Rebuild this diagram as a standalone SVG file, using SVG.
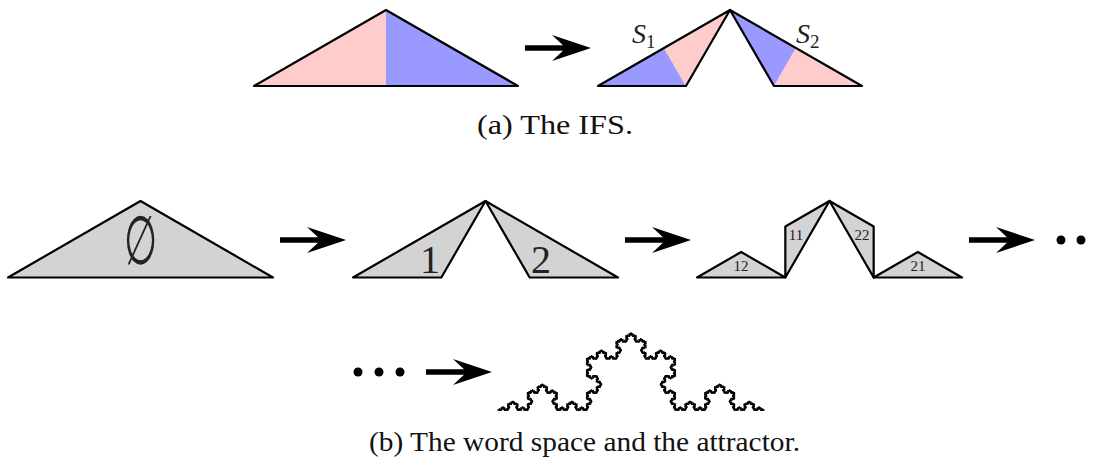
<svg xmlns="http://www.w3.org/2000/svg" xmlns:xlink="http://www.w3.org/1999/xlink" width="1096" height="459" viewBox="0 0 1096 459">
<style>
.pink{fill:#FFCCCC}
.blue{fill:#9999FF}
.gray{fill:#D3D3D3;stroke:#000;stroke-width:2.2;stroke-linejoin:round}
.edge{fill:none;stroke:#000;stroke-width:2.2;stroke-linejoin:round}
.cap{font-family:"Liberation Serif",serif;font-size:28px;fill:#111}
.lab{font-family:"Liberation Serif",serif;fill:#222}
.arr{fill:#000}
</style>
<defs>
<path id="arrow" d="M0,-2.8 H38 L27,-13 L66,0 L27,13 L38,2.8 H0 Z"/>
<path id="k0" d="M0,0 H1.09465" fill="none" stroke="#000" stroke-width="1.6" stroke-linecap="round"/>
<g id="k1"><use href="#k0"/><use href="#k0" transform="translate(1.09465,0) rotate(-60)"/><use href="#k0" transform="translate(1.641975,-0.947995) rotate(60)"/><use href="#k0" transform="translate(2.1893,0)"/></g>
<g id="k2"><use href="#k1"/><use href="#k1" transform="translate(3.283951,0) rotate(-60)"/><use href="#k1" transform="translate(4.925926,-2.843985) rotate(60)"/><use href="#k1" transform="translate(6.567901,0)"/></g>
<g id="k3"><use href="#k2"/><use href="#k2" transform="translate(9.851852,0) rotate(-60)"/><use href="#k2" transform="translate(14.777778,-8.531955) rotate(60)"/><use href="#k2" transform="translate(19.703704,0)"/></g>
<g id="k4"><use href="#k3"/><use href="#k3" transform="translate(29.555556,0) rotate(-60)"/><use href="#k3" transform="translate(44.333333,-25.595866) rotate(60)"/><use href="#k3" transform="translate(59.111111,0)"/></g>
<g id="k5"><use href="#k4"/><use href="#k4" transform="translate(88.666667,0) rotate(-60)"/><use href="#k4" transform="translate(133,-76.787548) rotate(60)"/><use href="#k4" transform="translate(177.333333,0)"/></g>
</defs>
<rect width="1096" height="459" fill="#fff"/>

<g id="ifs-source">
<polygon class="pink" points="254,86 386,10 386,86"/>
<polygon class="blue" points="386,10 518,86 386,86"/>
<polygon class="edge" points="254,86 386,10 518,86"/>
</g>

<g id="ifs-image">
<polygon class="blue" points="598,86 664,48 686,86"/>
<polygon class="pink" points="664,48 730,10 686,86"/>
<polygon class="blue" points="730,10 796,48 774,86"/>
<polygon class="pink" points="796,48 862,86 774,86"/>
<polygon class="edge" points="598,86 730,10 686,86"/>
<polygon class="edge" points="730,10 862,86 774,86"/>
<text class="lab" x="632" y="43" font-size="28" font-style="italic">S<tspan font-size="19" font-style="normal" dy="5">1</tspan></text>
<text class="lab" x="796" y="43" font-size="28" font-style="italic">S<tspan font-size="19" font-style="normal" dy="5">2</tspan></text>
</g>

<text class="cap" x="477" y="134" textLength="156" lengthAdjust="spacingAndGlyphs">(a) The IFS.</text>

<g id="word-empty">
<polygon class="gray" points="8,277.5 140.5,201 273,277.5"/>
<text class="lab" font-family="DejaVu Sans" font-size="68" text-anchor="middle" transform="translate(141,264) scale(0.56,1)">∅</text>
</g>

<g id="word-level1">
<polygon class="gray" points="353,277.5 485.5,201 441.33,277.5"/>
<polygon class="gray" points="485.5,201 618,277.5 529.67,277.5"/>
<text class="lab" x="430" y="273" font-size="40" text-anchor="middle">1</text>
<text class="lab" x="541" y="273" font-size="40" text-anchor="middle">2</text>
</g>

<g id="word-level2">
<polygon class="gray" points="697,277.5 741.17,252 785.33,277.5"/>
<polygon class="gray" points="785.33,277.5 785.33,226.5 829.5,201"/>
<polygon class="gray" points="873.67,277.5 873.67,226.5 829.5,201"/>
<polygon class="gray" points="873.67,277.5 917.83,252 962,277.5"/>
<text class="lab" x="741" y="271" font-size="15" text-anchor="middle">12</text>
<text class="lab" x="796" y="240" font-size="15" text-anchor="middle">11</text>
<text class="lab" x="862" y="240" font-size="15" text-anchor="middle">22</text>
<text class="lab" x="918" y="271" font-size="15" text-anchor="middle">21</text>
</g>

<g id="dots-right">
<circle cx="1061" cy="240" r="4.5"/>
<circle cx="1081" cy="240" r="4.5"/>
</g>

<g id="dots-left">
<circle cx="358" cy="372" r="4.5"/>
<circle cx="379" cy="372" r="4.5"/>
<circle cx="400" cy="372" r="4.5"/>
</g>

<g id="attractor">
<use href="#k5" transform="translate(498,410)"/>
</g>

<g id="connectors">
<use href="#arrow" class="arr" transform="translate(525,48)"/>
<use href="#arrow" class="arr" transform="translate(280,240)"/>
<use href="#arrow" class="arr" transform="translate(625,240)"/>
<use href="#arrow" class="arr" transform="translate(969,240)"/>
<use href="#arrow" class="arr" transform="translate(426,372)"/>
</g>

<text class="cap" x="369" y="451" textLength="431" lengthAdjust="spacingAndGlyphs">(b) The word space and the attractor.</text>
</svg>
